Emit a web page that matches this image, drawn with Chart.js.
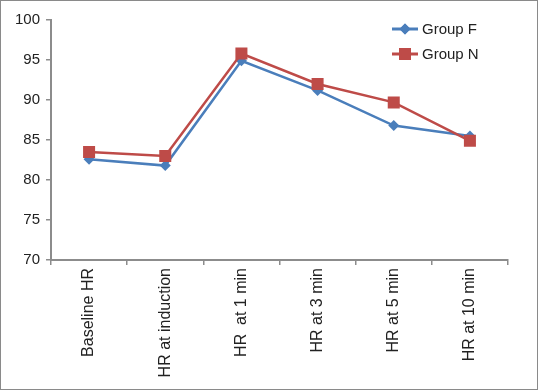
<!DOCTYPE html>
<html lang="en">
<head>
  <meta charset="UTF-8" />
  <title>HR</title>
  <style>
    body { margin: 0; background: #fff; }
    #box {
      width: 538px; height: 390px; box-sizing: border-box;
      border: 1px solid #8a8a8a; background: #fff;
    }
  </style>
</head>
<body>
  <div id="box"><canvas id="chart" width="536" height="388"></canvas></div>

  <script src="https://cdn.jsdelivr.net/npm/chart.js@4.4.0/dist/chart.umd.min.js"></script>
  <script>
    var labels = ["Baseline HR", "HR at induction", "HR  at 1 min", "HR at 3 min", "HR at 5 min", "HR at 10 min"];
    var groupF = [82.6, 81.8, 94.9, 91.2, 86.8, 85.5];
    var groupN = [83.5, 83.0, 95.8, 92.0, 89.7, 84.9];
    var yTicks = [70, 75, 80, 85, 90, 95, 100];

    var blue = "#4a7ebb";
    var red = "#be4b48";
    var axisGray = "#8c8c8c";
    var font = { family: "'Liberation Sans', Arial, sans-serif", size: 15 };
    var xFont = { family: "'Liberation Sans', Arial, sans-serif", size: 16 };

    // legend drawn in the top right corner like the original
    var cornerLegend = {
      id: "cornerLegend",
      afterDraw: function (chart) {
        var ctx = chart.ctx;
        var items = [
          { text: "Group F", color: blue, style: "rectRot", radius: 5.5, y: 28 },
          { text: "Group N", color: red, style: "rect", radius: 8.5, y: 53 }
        ];
        ctx.save();
        items.forEach(function (it) {
          ctx.strokeStyle = it.color;
          ctx.lineWidth = 3;
          ctx.beginPath();
          ctx.moveTo(391, it.y);
          ctx.lineTo(417, it.y);
          ctx.stroke();
          ctx.fillStyle = it.color;
          Chart.helpers.drawPoint(ctx, { pointStyle: it.style, radius: it.radius, borderWidth: 0 }, 404, it.y);
          ctx.fill();
          ctx.fillStyle = "#222";
          ctx.font = "15px 'Liberation Sans', Arial, sans-serif";
          ctx.textBaseline = "middle";
          ctx.fillText(it.text, 421, it.y + 1);
        });
        ctx.restore();
      }
    };

    var ctx = document.getElementById("chart").getContext("2d");
    var myChart = new Chart(ctx, {
      type: "line",
      data: {
        labels: labels,
        datasets: [
          {
            label: "Group F",
            data: groupF,
            borderColor: blue,
            backgroundColor: blue,
            borderWidth: 2.5,
            pointStyle: "rectRot",
            pointRadius: 5.5,
            pointBorderWidth: 0,
            order: 1
          },
          {
            label: "Group N",
            data: groupN,
            borderColor: red,
            backgroundColor: red,
            borderWidth: 2.5,
            pointStyle: "rect",
            pointRadius: 8.5,
            pointBorderWidth: 0,
            order: 0
          }
        ]
      },
      options: {
        responsive: false,
        animation: false,
        layout: { padding: { top: 19, right: 29, left: 0, bottom: 0 } },
        plugins: {
          legend: { display: false },
          tooltip: { enabled: false }
        },
        scales: {
          x: {
            offset: true,
            grid: { offset: true, drawOnChartArea: false, drawTicks: true, tickLength: 5, color: axisGray, lineWidth: 1.5 },
            border: { color: axisGray, width: 2 },
            ticks: { font: xFont, color: "#222", minRotation: 90, maxRotation: 90, padding: 3, autoSkip: false },
            afterFit: function (s) { s.height = 129; }
          },
          y: {
            min: 70,
            max: 100,
            afterBuildTicks: function (s) { s.ticks = yTicks.map(function (v) { return { value: v }; }); },
            grid: { drawOnChartArea: false, drawTicks: true, tickLength: 5, color: axisGray, lineWidth: 1.5 },
            border: { color: axisGray, width: 2 },
            ticks: { font: font, color: "#222", padding: 6 },
            afterFit: function (s) { s.width = 50; }
          }
        }
      },
      plugins: [cornerLegend]
    });
  </script>
</body>
</html>
